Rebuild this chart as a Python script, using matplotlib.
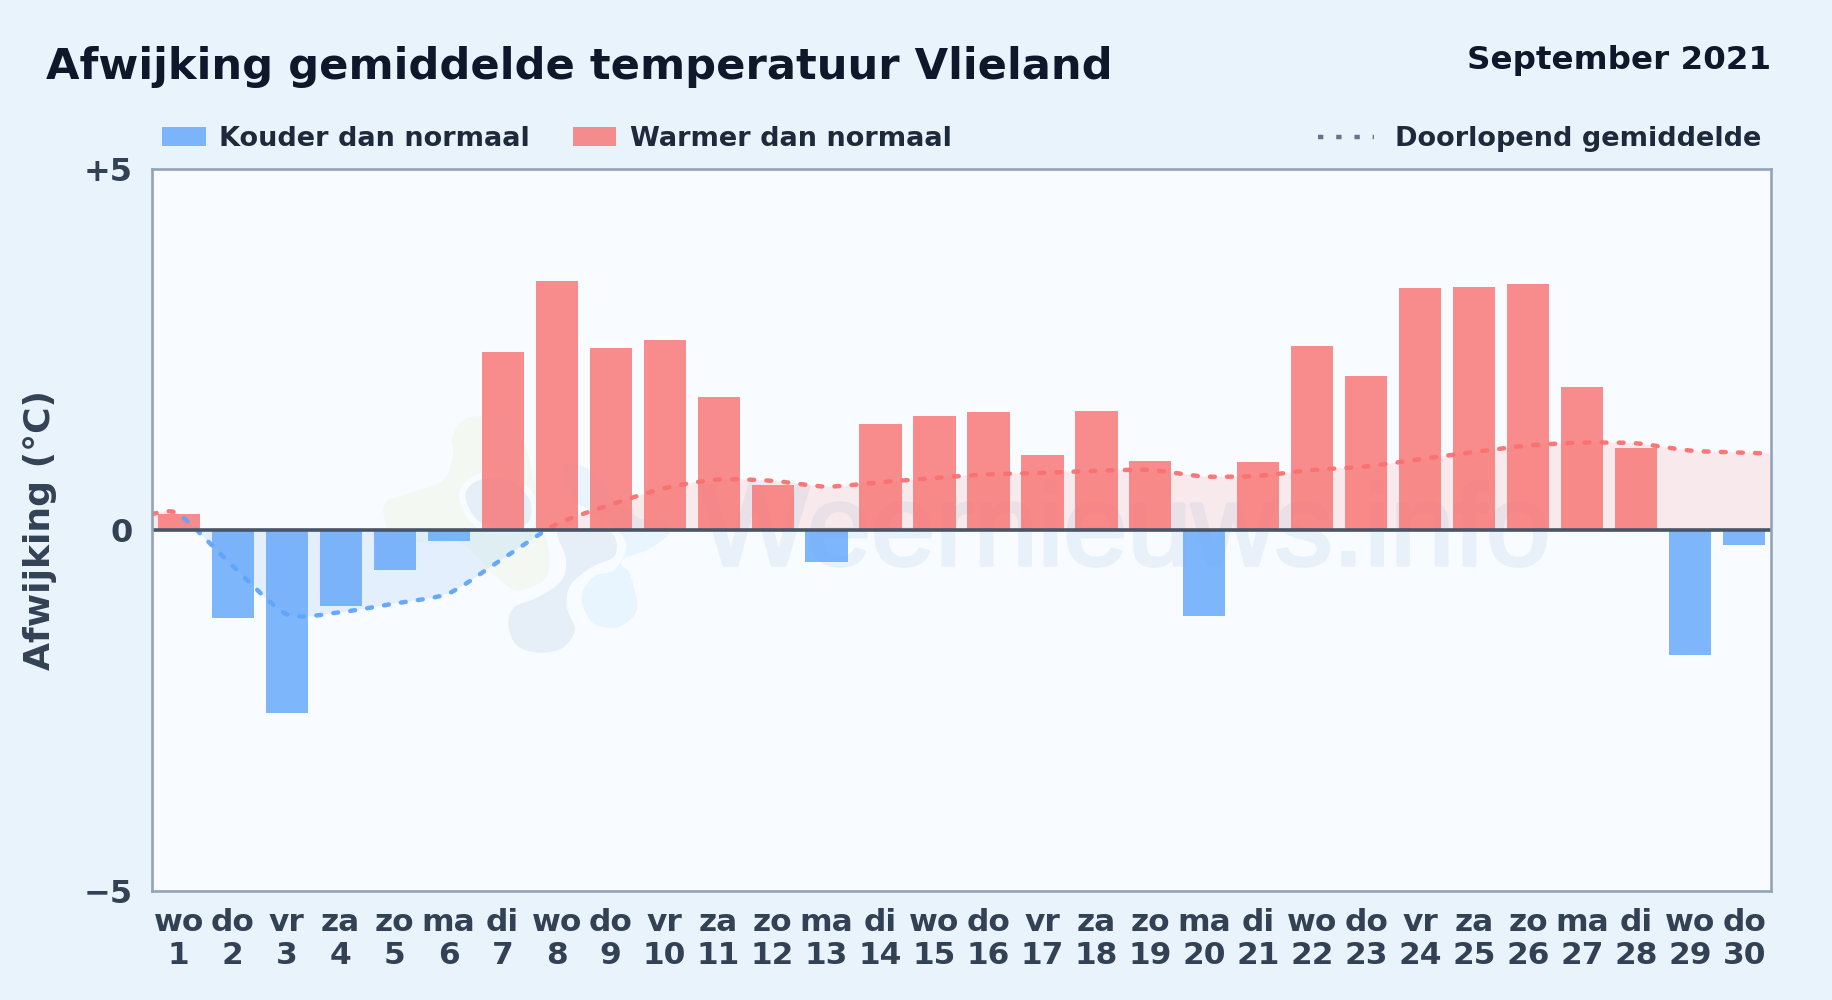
import numpy as np
import matplotlib
matplotlib.use("Agg")
import matplotlib.pyplot as plt
import matplotlib.patheffects as pe
from matplotlib.path import Path
from matplotlib.patches import PathPatch, Rectangle
from matplotlib.lines import Line2D
from matplotlib.transforms import Affine2D

# ---- data ----
weekdays = ["wo","do","vr","za","zo","ma","di","wo","do","vr","za","zo","ma","di","wo",
            "do","vr","za","zo","ma","di","wo","do","vr","za","zo","ma","di","wo","do"]
days = list(range(1, 31))
afwijking = [0.22,-1.22,-2.54,-1.05,-0.56,-0.16,2.46,3.45,2.52,2.63,1.84,0.62,-0.44,1.47,1.58,
             1.64,1.04,1.65,0.96,-1.20,0.94,2.55,2.13,3.35,3.37,3.41,1.98,1.14,-1.73,-0.21]
doorlopend = [0.22,-0.50,-1.17,-1.14,-1.02,-0.88,-0.40,0.08,0.35,0.58,0.70,0.68,0.60,0.66,0.72,
              0.77,0.79,0.82,0.83,0.74,0.75,0.83,0.88,0.98,1.08,1.17,1.21,1.20,1.10,1.07]
edge_left = 0.22
edge_right = 1.06
y_ticks = [5, 0, -5]
y_tick_labels = ["+5", "0", "\u22125"]

BLUE = "#60a5fa"; RED = "#f87171"
FIG_BG = "#e9f3fc"; AX_BG = "#f8fbff"
W, H = 1832, 1000

fig = plt.figure(figsize=(W/100, H/100), dpi=100, facecolor=FIG_BG)
plt.rcParams["font.family"] = "DejaVu Sans"
ax = fig.add_axes([151.8/W, (H-890.6)/H, (1771.2-151.8)/W, 721.4/H], facecolor=AX_BG)

def smooth_path(px, py, t=0.12, closed=False):
    p = np.column_stack([px, py]).astype(float)
    n = len(p)
    verts = [p[0]]; codes = [Path.MOVETO]
    last = n if closed else n-1
    for i in range(last):
        if closed:
            p0, p1, p2, p3 = p[(i-1) % n], p[i], p[(i+1) % n], p[(i+2) % n]
        else:
            p0, p1, p2, p3 = p[max(i-1, 0)], p[i], p[i+1], p[min(i+2, n-1)]
        verts += [p1+t*(p2-p0), p2-t*(p3-p1), p2]
        codes += [Path.CURVE4]*3
    return Path(verts, codes)

# ---- watermark (pixel coordinates of the picture) ----
px_tr = Affine2D().scale(1, -1).translate(0, H)
blobs = [
    ("#f3f9f2", [(449,437),(461,418),(484,413),(510,420),(530,450),(545,520),(553,560),(545,583),
                 (515,593),(488,573),(461,547),(427,547),(392,540),(380,513),(386,498),(415,488),(442,477),(450,453)]),
    ("#e9f5fe", [(560,462),(590,466),(610,490),(640,515),(668,520),(672,535),(650,552),(625,562),(633,573),
                 (640,610),(620,630),(593,627),(580,607),(580,590),(593,573),(613,567),(623,543),(600,520),(570,500)]),
    ("#e6eff8", [(462,497),(472,480),(493,475),(515,480),(533,500),(530,525),(500,532),(475,522)]),
    ("#e6eff8", [(555,530),(590,525),(613,530),(620,545),(615,560),(593,570),(573,587),(570,607),(578,630),
                 (565,650),(540,656),(515,648),(505,625),(512,605),(535,595),(558,580),(563,560)]),
]
for col, pts in blobs:
    xs, ys = zip(*pts)
    ax.add_patch(PathPatch(smooth_path(xs, ys, t=0.16, closed=True), facecolor=col, edgecolor=AX_BG,
                           lw=4.5, transform=px_tr, zorder=0.5, clip_on=True))
ax.text(1125, 565, "Weernieuws.info", transform=px_tr, fontsize=83, family="Liberation Sans",
        color="#e8f1fa", ha="center", va="baseline", zorder=0.6,
        path_effects=[pe.withStroke(linewidth=2.5, foreground="#e8f1fa")])

# ---- running mean curve and fills ----
cx = [-0.5] + list(range(30)) + [29.5]
cy = [edge_left] + doorlopend + [edge_right]
curve = smooth_path(cx, cy)
fill_path = Path(np.vstack([[cx[0], 0], curve.vertices, [cx[-1], 0], [cx[0], 0]]),
                 [Path.MOVETO, Path.LINETO] + list(curve.codes[1:]) + [Path.LINETO, Path.CLOSEPOLY])

S = -0.04  # the curve turns blue here
red_clip = Path.make_compound_path(Path([(-1,-6),(S,-6),(S,6),(-1,6),(-1,-6)]),
                                   Path([(1,0),(31,0),(31,6),(1,6),(1,0)]))
blue_clip = Path.make_compound_path(Path([(S,-6),(1,-6),(1,6),(S,6),(S,-6)]),
                                    Path([(1,-6),(31,-6),(31,0),(1,0),(1,-6)]))
for col, clip in ((RED, red_clip), (BLUE, blue_clip)):
    f = PathPatch(fill_path, facecolor=col, edgecolor="none", alpha=0.13, zorder=1)
    ax.add_patch(f); f.set_clip_path(clip, ax.transData)
    l = PathPatch(curve, facecolor="none", edgecolor=col, lw=3.2, linestyle=(0, (1.1, 2.75)),
                  capstyle="round", zorder=3, alpha=0.95)
    ax.add_patch(l); l.set_clip_path(clip, ax.transData)

# ---- bars ----
x = np.arange(30)
ax.bar(x, afwijking, width=0.78, color=[RED if v > 0 else BLUE for v in afwijking], alpha=0.8,
       linewidth=0, zorder=2)
ax.axhline(0, color="#475569", lw=2.6, zorder=4)

ax.set_xlim(-0.5, 29.5); ax.set_ylim(-5, 5)
for s in ax.spines.values():
    s.set_color("#94a3b8"); s.set_linewidth(1.9); s.set_zorder(5)
ax.set_xticks(x, [f"{w}\n{d}" for w, d in zip(weekdays, days)])
ax.set_yticks(y_ticks, y_tick_labels)
ax.tick_params(axis="both", length=0, labelcolor="#334155", labelsize=22.5)
ax.tick_params(axis="y", labelsize=23)
ax.tick_params(axis="x", pad=12.3)
ax.tick_params(axis="y", pad=14)
for t in ax.get_xticklabels() + ax.get_yticklabels():
    t.set_fontweight("bold")
for t in ax.get_xticklabels():
    t.set_linespacing(1.2)
ax.set_ylabel("Afwijking (\u00b0C)", fontsize=26, fontweight="bold", color="#334155")
ax.yaxis.set_label_coords(38/W, 0.5, transform=fig.transFigure)
ax.yaxis.label.set_position((57/W, (H-530)/H))

# ---- titles and legend ----
fig.text(46/W, (H-79)/H, "Afwijking gemiddelde temperatuur Vlieland", fontsize=31.15, fontweight="bold",
         color="#0f172a", va="baseline", ha="left")
fig.text(1771/W, (H-69)/H, "September 2021", fontsize=23.4, fontweight="bold", color="#0f172a",
         va="baseline", ha="right")
LEG = dict(fontsize=19.55, fontweight="bold", color="#1e293b", va="baseline", ha="left")
base = (H-145.5)/H
fig.add_artist(Rectangle((162/W, (H-146)/H), 44/W, 19/H, facecolor=BLUE, alpha=0.8, lw=0, transform=fig.transFigure))
fig.text(219/W, base, "Kouder dan normaal", **LEG)
fig.add_artist(Rectangle((573/W, (H-146)/H), 43/W, 19/H, facecolor=RED, alpha=0.8, lw=0, transform=fig.transFigure))
fig.text(630/W, base, "Warmer dan normaal", **LEG)
fig.add_artist(Line2D([1317.5/W, 1374/W], [(H-137)/H]*2, color="#64748b", lw=3.2, linestyle=(0, (1.2, 2.9)),
                      transform=fig.transFigure))
fig.text(1395/W, base, "Doorlopend gemiddelde", **LEG)

fig.savefig("out.png", dpi=100, facecolor=FIG_BG)
